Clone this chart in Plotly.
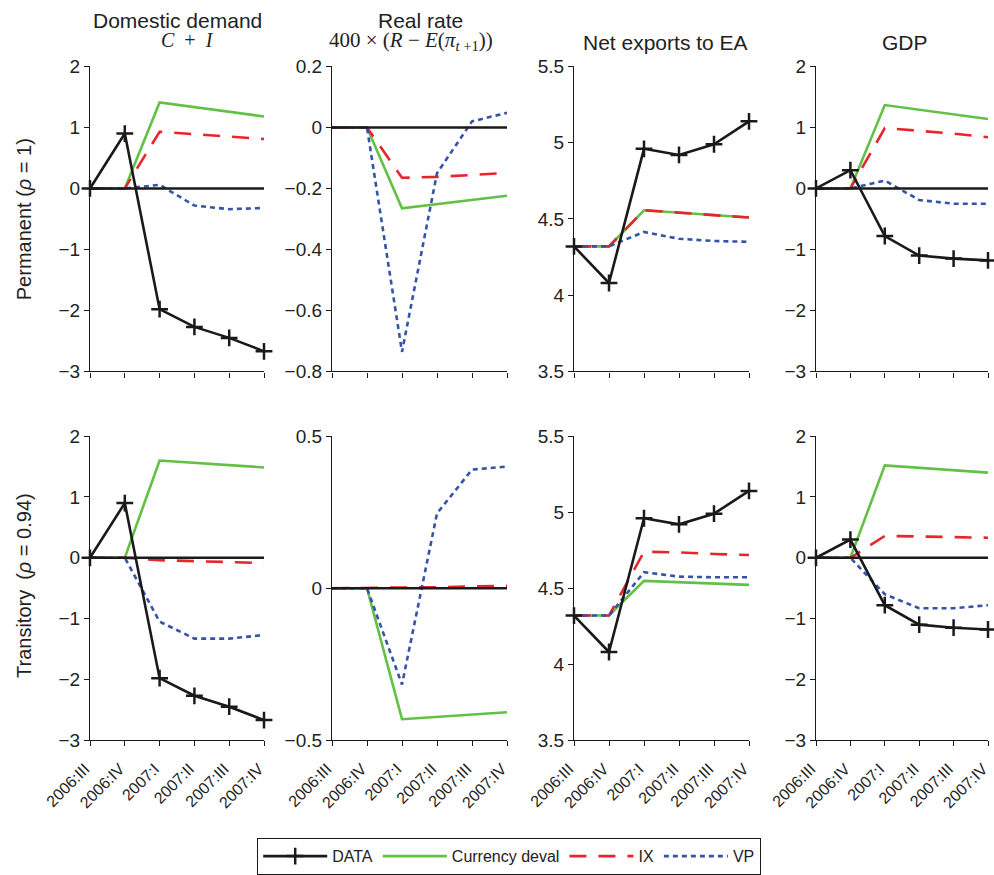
import plotly.graph_objects as go

quarters = ["2006:III", "2006:IV", "2007:I", "2007:II", "2007:III", "2007:IV"]
xpos = [0, 1, 2, 3, 4, 5]

# DATA
data_dd = [0.0, 0.9, -1.98, -2.27, -2.45, -2.67]
data_nx = [4.32, 4.08, 4.96, 4.92, 4.99, 5.14]
data_gdp = [0.0, 0.3, -0.78, -1.10, -1.15, -1.18]

# Permanent (rho = 1)
perm_dd_cd = [0.0, 0.0, 1.41, 1.33, 1.26, 1.18]
perm_dd_ix = [0.0, 0.0, 0.93, 0.89, 0.85, 0.81]
perm_dd_vp = [0.0, 0.0, 0.06, -0.28, -0.34, -0.32]
perm_rr_cd = [0.0, 0.0, -0.265, -0.252, -0.238, -0.224]
perm_rr_ix = [0.0, 0.0, -0.165, -0.162, -0.156, -0.149]
perm_rr_vp = [0.0, 0.0, -0.736, -0.15, 0.02, 0.048]
perm_nx_cd = [4.32, 4.32, 4.557, 4.54, 4.525, 4.509]
perm_nx_ix = [4.32, 4.32, 4.557, 4.54, 4.525, 4.509]
perm_nx_vp = [4.32, 4.32, 4.415, 4.37, 4.355, 4.35]
perm_gdp_cd = [0.0, 0.0, 1.367, 1.29, 1.21, 1.138]
perm_gdp_ix = [0.0, 0.0, 0.99, 0.95, 0.90, 0.84]
perm_gdp_vp = [0.0, 0.0, 0.13, -0.19, -0.25, -0.25]

# Transitory (rho = 0.94)
tran_dd_cd = [0.0, 0.0, 1.60, 1.56, 1.52, 1.486]
tran_dd_ix = [0.0, 0.0, -0.04, -0.05, -0.07, -0.087]
tran_dd_vp = [0.0, 0.0, -1.05, -1.33, -1.33, -1.27]
tran_rr_cd = [0.0, 0.0, -0.431, -0.423, -0.416, -0.408]
tran_rr_ix = [0.0, 0.0, 0.002, 0.003, 0.005, 0.008]
tran_rr_vp = [0.0, 0.0, -0.317, 0.246, 0.39, 0.40]
tran_nx_cd = [4.32, 4.32, 4.548, 4.54, 4.53, 4.522]
tran_nx_ix = [4.32, 4.32, 4.74, 4.735, 4.725, 4.718]
tran_nx_vp = [4.32, 4.32, 4.605, 4.576, 4.572, 4.572]
tran_gdp_cd = [0.0, 0.0, 1.52, 1.48, 1.44, 1.40]
tran_gdp_ix = [0.0, 0.0, 0.36, 0.35, 0.34, 0.33]
tran_gdp_vp = [0.0, 0.0, -0.60, -0.83, -0.83, -0.78]

zero_line = [0, 0, 0, 0, 0, 0]

ticks_dd = [-3, -2, -1, 0, 1, 2]
ticks_dd_text = ["\u22123", "\u22122", "\u22121", "0", "1", "2"]
ticks_rr1 = [-0.8, -0.6, -0.4, -0.2, 0, 0.2]
ticks_rr1_text = ["\u22120.8", "\u22120.6", "\u22120.4", "\u22120.2", "0", "0.2"]
ticks_rr2 = [-0.5, 0, 0.5]
ticks_rr2_text = ["\u22120.5", "0", "0.5"]
ticks_nx = [3.5, 4, 4.5, 5, 5.5]
ticks_nx_text = ["3.5", "4", "4.5", "5", "5.5"]

series_names = ["DATA", "Currency deval", "IX", "VP"]

BLACK = "#1a1a1a"
GREEN = "#62c045"
RED = "#e8252a"
BLUE = "#3553a8"
TXT = "#222222"

panels = [
    (data_dd, perm_dd_cd, perm_dd_ix, perm_dd_vp, [-3, 2], ticks_dd, ticks_dd_text, True),
    (None, perm_rr_cd, perm_rr_ix, perm_rr_vp, [-0.8, 0.2], ticks_rr1, ticks_rr1_text, True),
    (data_nx, perm_nx_cd, perm_nx_ix, perm_nx_vp, [3.5, 5.5], ticks_nx, ticks_nx_text, False),
    (data_gdp, perm_gdp_cd, perm_gdp_ix, perm_gdp_vp, [-3, 2], ticks_dd, ticks_dd_text, True),
    (data_dd, tran_dd_cd, tran_dd_ix, tran_dd_vp, [-3, 2], ticks_dd, ticks_dd_text, True),
    (None, tran_rr_cd, tran_rr_ix, tran_rr_vp, [-0.5, 0.5], ticks_rr2, ticks_rr2_text, True),
    (data_nx, tran_nx_cd, tran_nx_ix, tran_nx_vp, [3.5, 5.5], ticks_nx, ticks_nx_text, False),
    (data_gdp, tran_gdp_cd, tran_gdp_ix, tran_gdp_vp, [-3, 2], ticks_dd, ticks_dd_text, True),
]

W, H = 994, 875
col_px = [(90, 264), (332, 507), (574, 749), (816, 988)]
row_px = [(66.7, 372.7), (437.7, 742.7)]

SANS = "Liberation Sans, Arial, sans-serif"
SERIF = "Liberation Serif, Times New Roman, serif"

fig = go.Figure()
layout = {}
LW = 2.6

for i, (dat, cd, ix, vp, yr, tv, tt, zero) in enumerate(panels):
    k = i + 1
    r, c = divmod(i, 4)
    xa = "x" if k == 1 else f"x{k}"
    ya = "y" if k == 1 else f"y{k}"
    first = (i == 0)
    fig.add_trace(go.Scatter(x=xpos, y=cd, mode="lines", name=series_names[1],
                             line=dict(color=GREEN, width=LW), xaxis=xa, yaxis=ya,
                             showlegend=first, legendrank=2, cliponaxis=False))
    fig.add_trace(go.Scatter(x=xpos, y=ix, mode="lines", name=series_names[2],
                             line=dict(color=RED, width=LW, dash="17px,12px"), xaxis=xa, yaxis=ya,
                             showlegend=first, legendrank=3, cliponaxis=False))
    fig.add_trace(go.Scatter(x=xpos, y=vp, mode="lines", name=series_names[3],
                             line=dict(color=BLUE, width=LW, dash="5px,4px"), xaxis=xa, yaxis=ya,
                             showlegend=first, legendrank=4, cliponaxis=False))
    if zero:
        fig.add_trace(go.Scatter(x=xpos, y=zero_line, mode="lines", showlegend=False,
                                 line=dict(color=BLACK, width=LW), xaxis=xa, yaxis=ya,
                                 hoverinfo="skip", cliponaxis=False))
    if dat is not None:
        fig.add_trace(go.Scatter(x=xpos, y=dat, mode="lines+markers", name=series_names[0],
                                 line=dict(color=BLACK, width=LW),
                                 marker=dict(symbol="cross-thin", size=12,
                                             line=dict(color=BLACK, width=2.5)),
                                 xaxis=xa, yaxis=ya, showlegend=(i == 0), legendrank=1,
                                 cliponaxis=False))
    x0, x1 = col_px[c]
    y0, y1 = row_px[r]
    layout["xaxis" if k == 1 else f"xaxis{k}"] = dict(
        domain=[x0 / W, x1 / W], range=[0, 5], anchor=ya, automargin=False,
        tickmode="array", tickvals=xpos, ticktext=quarters,
        showticklabels=(r == 1), tickangle=-45, ticklabeloverflow="allow",
        ticklabelstandoff=7, ticklabelshift=-5,
        ticks="outside", ticklen=5, tickwidth=1.3, tickcolor=BLACK,
        showline=True, linecolor=BLACK, linewidth=1.3,
        showgrid=False, zeroline=False,
        tickfont=dict(family=SANS, size=16, color=TXT),
    )
    layout["yaxis" if k == 1 else f"yaxis{k}"] = dict(
        domain=[1 - y1 / H, 1 - y0 / H], range=yr, anchor=xa, automargin=False,
        tickmode="array", tickvals=tv, ticktext=tt,
        ticks="outside", ticklen=5, tickwidth=1.3, tickcolor=BLACK,
        showline=True, linecolor=BLACK, linewidth=1.3,
        showgrid=False, zeroline=False,
        tickfont=dict(family=SANS, size=19, color=TXT),
    )

annotations = [
    dict(text="Domestic demand", x=177 / W, y=1 - 21 / H, font=dict(family=SANS, size=21, color=TXT)),
    dict(text="<i>C</i>\u2002+\u2002<i>I</i>", x=187 / W, y=1 - 40 / H, font=dict(family=SERIF, size=20, color=TXT)),
    dict(text="Real rate", x=420 / W, y=1 - 21 / H, font=dict(family=SANS, size=21, color=TXT)),
    dict(text="400 \u00d7 (<i>R</i> \u2212 <i>E</i>(<i>\u03c0</i><sub><i>t</i> +1</sub>))",
         x=411 / W, y=1 - 41 / H, font=dict(family=SERIF, size=21, color=TXT)),
    dict(text="Net exports to EA", x=665 / W, y=1 - 43 / H, font=dict(family=SANS, size=21, color=TXT)),
    dict(text="GDP", x=905 / W, y=1 - 43 / H, font=dict(family=SANS, size=21, color=TXT)),
    dict(text="Permanent (<i>\u03c1</i> = 1)", x=24 / W, y=1 - 220 / H, textangle=-90,
         font=dict(family=SANS, size=20, color=TXT)),
    dict(text="Transitory\u2002(<i>\u03c1</i> = 0.94)", x=24 / W, y=1 - 588 / H, textangle=-90,
         font=dict(family=SANS, size=20, color=TXT)),
]
for a in annotations:
    a.update(xref="paper", yref="paper", showarrow=False, xanchor="center", yanchor="middle")

fig.update_layout(
    width=W, height=H,
    margin=dict(l=0, r=0, t=0, b=0),
    paper_bgcolor="white", plot_bgcolor="white",
    showlegend=True,
    legend=dict(orientation="h", x=509 / W, xanchor="center", y=1 - 841 / H, yanchor="top",
                bordercolor=BLACK, borderwidth=1.2, bgcolor="white",
                font=dict(family=SANS, size=16, color=TXT),
                traceorder="normal", itemwidth=64),
    annotations=annotations,
    **layout,
)

fig.write_html("out.html")
